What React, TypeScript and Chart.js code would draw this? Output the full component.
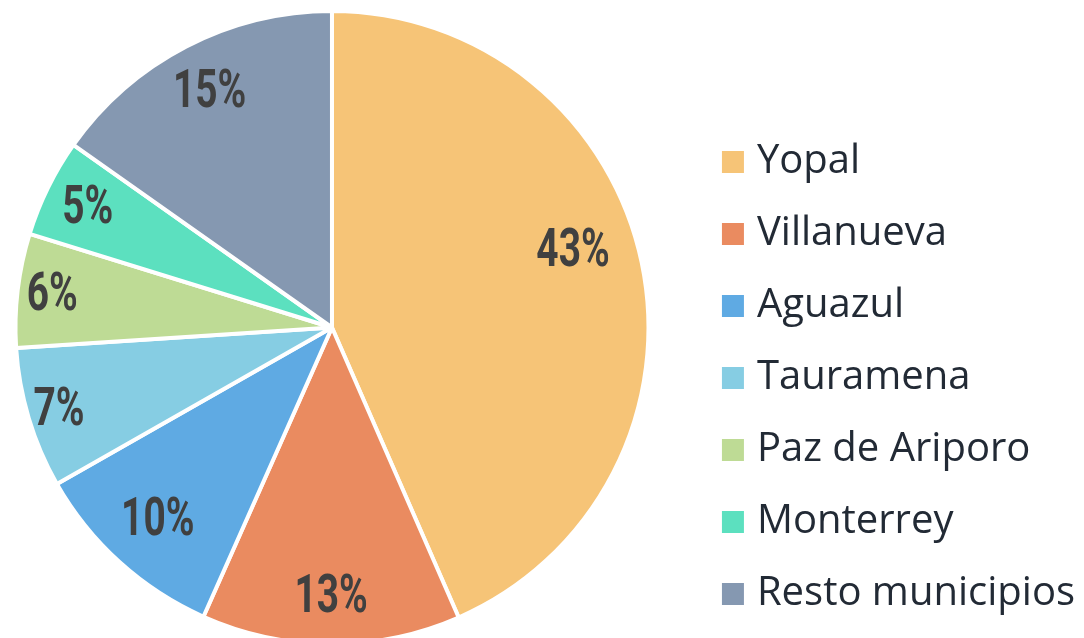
import { useEffect, useRef } from "react";
import { Chart, registerables } from "chart.js";

Chart.register(...registerables);

// ---- data ----
const categories = [
  "Yopal",
  "Villanueva",
  "Aguazul",
  "Tauramena",
  "Paz de Ariporo",
  "Monterrey",
  "Resto municipios",
];
const shares = [43.4, 13.2, 10.1, 7.2, 5.8, 5.0, 15.2];
const sliceColors = [
  "#F6C477",
  "#EA8B60",
  "#5FAAE3",
  "#86CDE3",
  "#BEDB95",
  "#5CE0BF",
  "#8598B1",
];
// label placement style (fraction of radius, angle shift in degrees)
const labelRadiusFrac = [0.8, 0.85, 0.82, 0.9, 0.89, 0.86, 0.84];
const labelAngleShift = [-6, 0, 0, 0, 0, 0, 0];

// ---- layout constants ----
const PAGE_W = 1084;
const PAGE_H = 638;
const CANVAS_LEFT = -33;
const CANVAS_H = 654;
const LEGEND_FONT = "40px 'Open Sans'";
const LEGEND_LEFT = 730; // canvas coords
const LABEL_FONT = "bold 54px Roboto";

const pctLabels = {
  id: "pctLabels",
  afterDatasetsDraw(chart: any) {
    const meta = chart.getDatasetMeta(0);
    const ctx = chart.ctx as CanvasRenderingContext2D;
    const values = chart.data.datasets[0].data as number[];
    meta.data.forEach((arc: any, i: number) => {
      const p = arc.getProps(["x", "y", "startAngle", "endAngle", "outerRadius"], true);
      const mid = (p.startAngle + p.endAngle) / 2 + (labelAngleShift[i] * Math.PI) / 180;
      const r = p.outerRadius * labelRadiusFrac[i];
      const px = p.x + Math.cos(mid) * r;
      const py = p.y + Math.sin(mid) * r;
      ctx.save();
      ctx.translate(px, py);
      ctx.scale(0.72, 1);
      ctx.font = LABEL_FONT;
      ctx.fillStyle = "#404040";
      ctx.textAlign = "center";
      ctx.textBaseline = "middle";
      ctx.fillText(Math.round(values[i]) + "%", 0, 2);
      ctx.restore();
    });
  },
};

export default function App() {
  const ref = useRef<HTMLCanvasElement | null>(null);

  useEffect(() => {
    const canvas = ref.current;
    if (!canvas) return;
    const mctx = document.createElement("canvas").getContext("2d")!;
    mctx.font = LEGEND_FONT;
    let maxW = 0;
    categories.forEach((c) => (maxW = Math.max(maxW, mctx.measureText(c).width)));
    const legendPad = 32;
    const legendW = legendPad + 8 + 20 + maxW + 10;
    const canvasW = Math.max(PAGE_W - CANVAS_LEFT, LEGEND_LEFT + legendW);
    const rightPad = canvasW - LEGEND_LEFT - legendW;
    canvas.width = canvasW;
    canvas.height = CANVAS_H;
    canvas.style.width = canvasW + "px";
    canvas.style.height = CANVAS_H + "px";

    const baseGen = (Chart as any).overrides.doughnut.plugins.legend.labels.generateLabels;

    const chart = new Chart(canvas, {
      type: "pie",
      data: {
        labels: categories,
        datasets: [
          {
            data: shares,
            backgroundColor: sliceColors,
            borderColor: "#FFFFFF",
            borderWidth: 4,
          },
        ],
      },
      options: {
        responsive: false,
        animation: false,
        layout: { padding: { top: 9, bottom: 8, left: 0, right: rightPad } },
        plugins: {
          tooltip: { enabled: false },
          legend: {
            position: "right",
            align: "end",
            labels: {
              usePointStyle: true,
              pointStyle: "rect",
              boxWidth: 8,
              boxHeight: 22,
              padding: legendPad,
              color: "#222A35",
              font: { family: "'Open Sans'", size: 40 },
              generateLabels: (c: any) =>
                baseGen(c).map((l: any) => ({ ...l, lineWidth: 0, strokeStyle: "rgba(0,0,0,0)" })),
            },
          },
        },
      },
      plugins: [pctLabels],
    });
    return () => chart.destroy();
  }, []);

  return (
    <div
      style={{
        position: "fixed",
        left: 0,
        top: 0,
        width: PAGE_W,
        height: PAGE_H,
        overflow: "hidden",
        background: "#FFFFFF",
      }}
    >
      <canvas ref={ref} style={{ position: "absolute", left: CANVAS_LEFT, top: 0 }} />
    </div>
  );
}
